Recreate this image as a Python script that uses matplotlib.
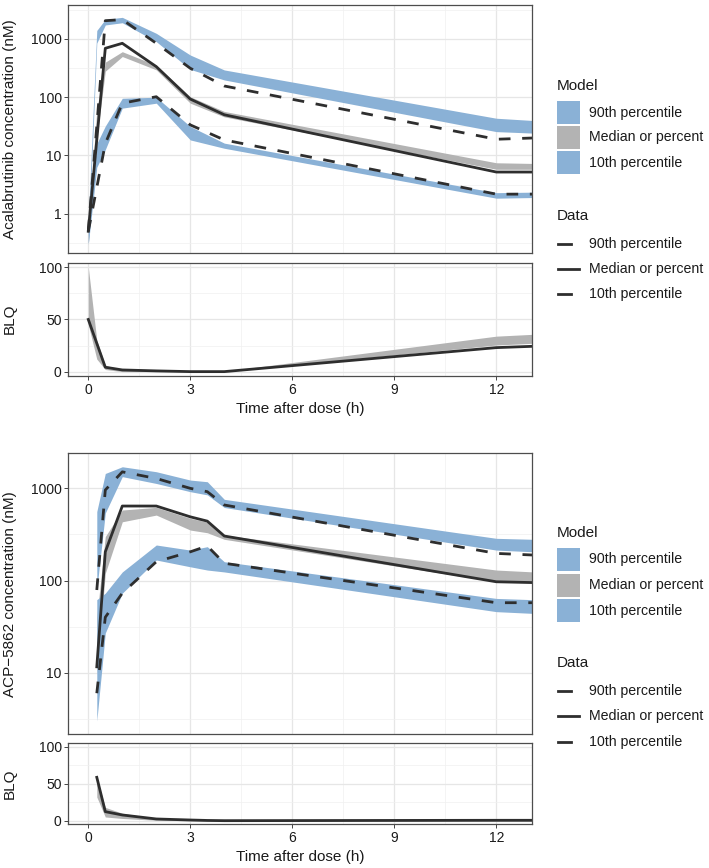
import matplotlib
matplotlib.use("Agg")
import matplotlib.pyplot as plt
from matplotlib.patches import Rectangle
from matplotlib.lines import Line2D
from matplotlib.ticker import FixedLocator, FixedFormatter, NullFormatter
import numpy as np

plt.rcParams['font.family'] = ['Liberation Sans', 'DejaVu Sans']

# ---------------- data: Acalabrutinib ----------------
t_mod1 = [0, 0.25, 0.5, 1, 2, 3, 4, 12, 13.1]
a_p90_lo = [0.3, 850, 1740, 1900, 900, 300, 198, 25.7, 24.2]
a_p90_hi = [0.8, 1400, 2170, 2350, 1250, 530, 294, 43.6, 39.8]
a_med_lo = [0.3, 20, 280, 500, 295, 79, 46, 5.8, 5.8]
a_med_hi = [0.6, 60, 400, 605, 355, 102, 57, 7.5, 7.3]
a_p10_lo = [0.3, 6.3, 12.6, 65, 79, 18.5, 13.3, 1.85, 1.9]
a_p10_hi = [0.6, 16, 32, 96, 100, 31.5, 16.3, 2.3, 2.35]

t_obs1 = [0, 0.5, 1, 2, 3, 4, 12, 13.1]
a_obs_p90 = [0.5, 2060, 2150, 843, 314, 156, 19, 20]
a_obs_med = [0.5, 692, 843, 335, 93, 50, 5.2, 5.2]
a_obs_p10 = [0.5, 16, 79, 102, 33.5, 18.5, 2.17, 2.17]

a_blq_lo = [45, 12, 2, 0, 0, 0, 0, 25.5, 27.2]
a_blq_hi = [100, 30, 6, 2, 0.5, 0.3, 0.3, 34, 35.8]
a_blq_obs = [50, 4.2, 1.6, 0.7, 0, 0, 23, 24.3]

# ---------------- data: ACP-5862 ----------------
t_mod2 = [0.25, 0.5, 1, 2, 3, 3.5, 4, 12, 13.1]
m_p90_lo = [80, 540, 1340, 1130, 920, 850, 620, 214, 205]
m_p90_hi = [560, 1450, 1715, 1515, 1230, 1180, 760, 287, 280]
m_med_lo = [10, 120, 434, 513, 353, 330, 280, 97, 97]
m_med_hi = [40, 300, 582, 622, 473, 430, 311, 130, 124]
m_p10_lo = [3, 27, 73, 167, 141, 130, 124, 46, 44]
m_p10_hi = [62, 73, 124, 243, 214, 233, 160, 64, 62]

t_obs2 = [0.25, 0.5, 1, 2, 3, 3.5, 4, 12, 13.1]
m_obs_p90 = [79, 960, 1510, 1280, 1000, 920, 660, 197, 189]
m_obs_med = [11.6, 205, 643, 643, 491, 441, 304, 97, 95]
m_obs_p10 = [6, 40, 73, 160, 205, 237, 154, 57.5, 57.5]

m_blq_lo = [32, 5, 3, 0.5, 0, 0, 0, 0, 0]
m_blq_hi = [58, 18, 10, 3, 1, 0.5, 0.5, 0.5, 0.5]
m_blq_obs = [58.6, 12.2, 7.7, 2.3, 0.9, 0.3, 0, 0.5, 0.5]

x_ticks = [0, 3, 6, 9, 12]
x_minor = [1.5, 4.5, 7.5, 10.5]
legend_labels = ["90th percentile", "Median or percent", "10th percentile"]

BLUE = '#8AB1D6'
GREY = '#B3B3B3'
LINE = '#2E2E2E'
GRIDMAJ = '#E6E6E6'
GRIDMIN = '#F0F0F0'
TXT = '#1A1A1A'
TICKFS = 10.0
LEGFS = 10.2

W, H = 709, 868
fig = plt.figure(figsize=(W / 100, H / 100), dpi=100)


def fx(x):
    return x / W


def fy(y):
    return 1 - y / H


def add_ax(l, t, r, b):
    return fig.add_axes([l / W, 1 - b / H, (r - l) / W, (b - t) / H])


XL = (-0.588, 13.04)
LW = 2.0
DASH = (0, (4.2, 4.2))


def style(ax, show_xlabels):
    ax.set_xlim(*XL)
    ax.xaxis.set_major_locator(FixedLocator(x_ticks))
    ax.xaxis.set_minor_locator(FixedLocator(x_minor))
    ax.grid(True, which='major', color=GRIDMAJ, lw=0.9)
    ax.grid(True, which='minor', color=GRIDMIN, lw=0.5)
    ax.set_axisbelow(True)
    for s in ax.spines.values():
        s.set_color('#4D4D4D')
        s.set_linewidth(0.9)
    ax.tick_params(which='minor', length=0)
    ax.tick_params(which='major', length=2.75, width=0.7, color='#444444',
                   labelsize=TICKFS, labelcolor=TXT, pad=2)
    if show_xlabels:
        ax.set_xticklabels([str(v) for v in x_ticks])
        ax.tick_params(axis='x', pad=2.5)
    else:
        ax.tick_params(axis='x', which='major', length=0, labelbottom=False)


def conc_panel(ax, tm, p90lo, p90hi, medlo, medhi, p10lo, p10hi, to, o90, omed, o10,
               ylim, majors):
    ax.set_yscale('log')
    ax.fill_between(tm, p90lo, p90hi, color=BLUE, lw=0)
    ax.fill_between(tm, medlo, medhi, color=GREY, lw=0)
    ax.fill_between(tm, p10lo, p10hi, color=BLUE, lw=0)
    ax.plot(to, o90, color=LINE, lw=LW, ls=DASH)
    ax.plot(to, omed, color=LINE, lw=LW)
    ax.plot(to, o10, color=LINE, lw=LW, ls=DASH)
    ax.set_ylim(*ylim)
    ax.yaxis.set_major_locator(FixedLocator(majors))
    ax.yaxis.set_major_formatter(FixedFormatter([f"{m:g}" for m in majors]))
    minors = [10 ** (k + 0.5) for k in range(-2, 5)]
    ax.yaxis.set_minor_locator(FixedLocator(minors))
    ax.yaxis.set_minor_formatter(NullFormatter())
    style(ax, False)


def blq_panel(ax, tm, lo, hi, to, obs, ylim):
    ax.fill_between(tm, lo, hi, color=GREY, lw=0)
    ax.plot(to, obs, color=LINE, lw=LW)
    ax.set_ylim(*ylim)
    ax.yaxis.set_major_locator(FixedLocator([0, 50, 100]))
    ax.yaxis.set_minor_locator(FixedLocator([25, 75]))
    style(ax, True)


ax1 = add_ax(68.3, 5, 531.7, 253)
ax2 = add_ax(68.3, 262.7, 531.7, 376)
ax3 = add_ax(68.3, 453.3, 531.7, 734.3)
ax4 = add_ax(68.3, 743.3, 531.7, 824)

conc_panel(ax1, t_mod1, a_p90_lo, a_p90_hi, a_med_lo, a_med_hi, a_p10_lo, a_p10_hi,
           t_obs1, a_obs_p90, a_obs_med, a_obs_p10, (0.212, 3830), [1, 10, 100, 1000])
blq_panel(ax2, t_mod1, a_blq_lo, a_blq_hi, t_obs1, a_blq_obs, (-4.2, 104.4))
conc_panel(ax3, t_mod2, m_p90_lo, m_p90_hi, m_med_lo, m_med_hi, m_p10_lo, m_p10_hi,
           t_obs2, m_obs_p90, m_obs_med, m_obs_p10, (2.15, 2400), [10, 100, 1000])
blq_panel(ax4, t_mod2, m_blq_lo, m_blq_hi, t_obs2, m_blq_obs, (-4.5, 104.6))

# axis titles
fig.text(fx(10), fy(129), "Acalabrutinib concentration (nM)", rotation=90,
         ha='center', va='center', fontsize=11, color=TXT)
fig.text(fx(10), fy(319), "BLQ", rotation=90, ha='center', va='center', fontsize=11, color=TXT)
fig.text(fx(300), fy(409), "Time after dose (h)", ha='center', va='center', fontsize=11, color=TXT)
fig.text(fx(10), fy(594), "ACP\u22125862 concentration (nM)", rotation=90,
         ha='center', va='center', fontsize=11, color=TXT)
fig.text(fx(10), fy(784), "BLQ", rotation=90, ha='center', va='center', fontsize=11, color=TXT)
fig.text(fx(300), fy(857), "Time after dose (h)", ha='center', va='center', fontsize=11, color=TXT)


# legends
def legend(y_model, box_tops, y_data, item_ys):
    fig.text(fx(557), fy(y_model), "Model", ha='left', va='center', fontsize=11, color=TXT)
    cols = [BLUE, GREY, BLUE]
    for top, c, lab in zip(box_tops, cols, legend_labels):
        r = Rectangle((fx(557), fy(top + 23)), 23 / W, 23 / H, transform=fig.transFigure,
                      facecolor=c, edgecolor='none')
        fig.add_artist(r)
        fig.text(fx(589), fy(top + 11.5), lab, ha='left', va='center', fontsize=LEGFS, color=TXT)
    fig.text(fx(557), fy(y_data), "Data", ha='left', va='center', fontsize=11, color=TXT)
    ends = [571, 579, 571]
    for yy, e, lab in zip(item_ys, ends, legend_labels):
        ln = Line2D([fx(558), fx(e)], [fy(yy), fy(yy)], transform=fig.transFigure,
                    color=LINE, lw=LW)
        fig.add_artist(ln)
        fig.text(fx(589), fy(yy), lab, ha='left', va='center', fontsize=LEGFS, color=TXT)


legend(86, [101, 126, 151], 216, [244, 269, 294])
legend(533, [548, 573.5, 599], 663, [691, 716, 742])

fig.savefig("out.png", dpi=100)
